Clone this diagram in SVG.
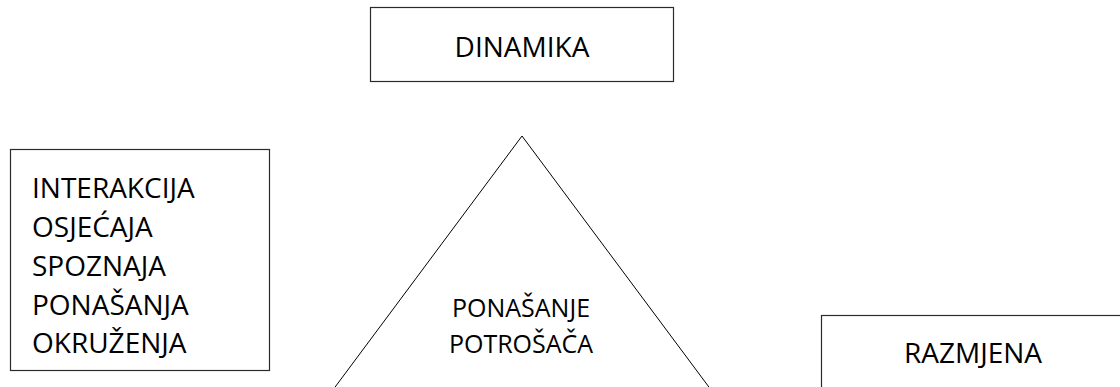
<svg xmlns="http://www.w3.org/2000/svg" width="1120" height="387" viewBox="0 0 1120 387">
<style>
.box{fill:#fff;stroke:#2b2b2b;stroke-width:1.2}
.tri{fill:#fff;stroke:#000;stroke-width:1}
text{font-family:"Open Sans","Noto Sans",sans-serif;fill:#000}
.t{font-size:28px}
.c{text-anchor:middle}
.s{font-size:25px}
</style>
<rect width="1120" height="387" fill="#fff"/>
<g id="triangle">
<polygon class="tri" points="522,136 315,414 729,414"/>
<text class="s c" x="521" y="317">PONAŠANJE</text>
<text class="s c" x="521" y="353">POTROŠAČA</text>
</g>
<g id="dinamika">
<rect class="box" x="370.5" y="7.5" width="303" height="74"/>
<text class="t c" x="522" y="57">DINAMIKA</text>
</g>
<g id="interakcija">
<rect class="box" x="10.5" y="149.5" width="259" height="221"/>
<text class="t" x="32" y="198">INTERAKCIJA</text>
<text class="t" x="32" y="237">OSJEĆAJA</text>
<text class="t" x="32" y="276">SPOZNAJA</text>
<text class="t" x="32" y="315">PONAŠANJA</text>
<text class="t" x="32" y="353">OKRUŽENJA</text>
</g>
<g id="razmjena">
<rect class="box" x="821.5" y="315.5" width="320" height="100"/>
<text class="t c" x="973" y="363">RAZMJENA</text>
</g>
<g id="connectors"></g>
</svg>
